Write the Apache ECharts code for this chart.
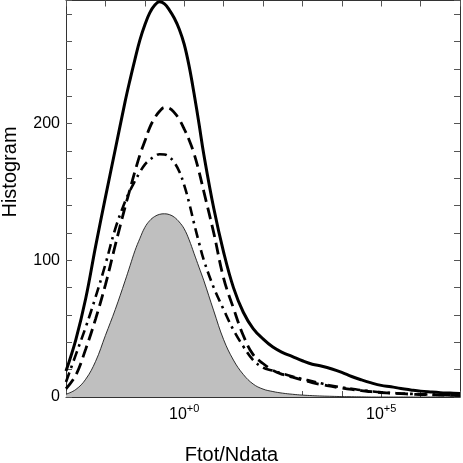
<!DOCTYPE html>
<html>
<head>
<meta charset="utf-8">
<script src="https://cdn.jsdelivr.net/npm/echarts@6/dist/echarts.min.js"></script>
<style>
html,body{margin:0;padding:0;background:#fff;}
#c{width:463px;height:463px;}
</style>
</head>
<body>
<div id="c"></div>
<script>
// x values are log10(Ftot/Ndata); finer reading steps around the peaks
const xExps = [-3,-2.75,-2.5,-2.25,-2,-1.75,-1.5,-1.375,-1.25,-1.125,-1,-0.875,-0.75,-0.625,-0.5,-0.375,-0.25,-0.125,0,0.125,0.25,0.375,0.5,0.75,1,1.25,1.5,1.75,2,2.25,2.5,2.75,3,3.25,3.5,3.75,4,4.25,4.5,4.75,5,5.25,5.5,5.75,6,6.25,6.5,6.75,7];
const solidValues = [19,42,72,110,146,181,216,232,247,261,272,281,286.5,289,287.5,283,277,269,258,242,222,200,177,138,106,80,62,50,42.5,36.5,32.5,29.5,26.5,24,22.5,20.5,18,15,12.5,10.3,8.5,7.5,6.2,5.2,4.3,3.7,3.2,2.9,2.6];
const dashedValues = [6,16,35,57,82,111,139,152,165,177,187,197,204,209,211.8,211.2,208,203,196,188,178,165,150,120,87,65,45,31,24.5,19.5,16.5,14.5,12.5,10.5,9,7.7,6.5,5.5,4.7,3.9,3.3,2.8,2.4,2.1,1.8,1.6,1.4,1.2,1.0];
const dashDotValues = [11,31,51,73,97,123,143,151,158,164.5,170,173.5,176,177.6,177.4,175.5,171.5,165,155,142,127,113,100,80,64,49,37,27,21.5,19.3,17,15,13.2,11.5,9.8,8.2,7,6,5,4.2,3.5,3,2.6,2.3,2,1.8,1.6,1.4,1.2];
const grayValues = [2,5.5,13,26,45,64,85,96,107,116,124,129,132,133.6,134,133.4,131.5,128,123,115,105,95,85,63,42,27,16.5,9.5,5.8,4,2.8,2,1.4,1,0.7,0.5,0.3,0.2,0.1,0,0,0,0,0,0,0,0,0,0];
const xLabelExps = [0, 5];
const yLabelValues = [0, 100, 200];

function pairs(vals){ return xExps.map(function(x,i){ return [x, vals[i]]; }); }

const chart = echarts.init(document.getElementById('c'));
const axisColor = '#333';
const tickColor = '#555';
const baseFont = 'Liberation Sans, Arial, Helvetica, sans-serif';
function xFmt(v){
  if (xLabelExps.indexOf(v) >= 0) return '{n|10}{s|+' + v + '}';
  return '';
}
function yFmt(v){
  return yLabelValues.indexOf(v) >= 0 ? String(v) : '';
}
const xCommon = {type:'value', min:-3, max:7, interval:1,
  axisLine:{show:true, onZero:false, lineStyle:{color:axisColor, width:1}},
  axisTick:{show:true, inside:true, length:6, lineStyle:{color:tickColor}},
  splitLine:{show:false}};
const yCommon = {type:'value', min:0, max:290, interval:20,
  axisLine:{show:true, onZero:false, lineStyle:{color:axisColor, width:1}},
  axisTick:{show:true, inside:true, length:6, lineStyle:{color:tickColor}},
  splitLine:{show:false}};

chart.setOption({
  animation:false,
  grid:{left:66, right:1, top:0.5, bottom:66, containLabel:false},
  xAxis:[
    Object.assign({}, xCommon, {position:'bottom',
      axisLabel:{show:true, formatter:xFmt, margin:6, color:'#000', fontFamily:baseFont,
        rich:{n:{fontSize:16, lineHeight:20, verticalAlign:'bottom', fontFamily:baseFont, color:'#000'},
              s:{fontSize:11, lineHeight:11, verticalAlign:'top', fontFamily:baseFont, color:'#000'}}}}),
    Object.assign({}, xCommon, {position:'top', axisLabel:{show:false}})
  ],
  yAxis:[
    Object.assign({}, yCommon, {position:'left',
      axisLabel:{show:true, formatter:yFmt, margin:6, fontSize:16, color:'#000', fontFamily:baseFont}}),
    Object.assign({}, yCommon, {position:'right', axisLabel:{show:false}})
  ],
  graphic:[
    {type:'text', left:'center', top:445, style:{text:'Ftot/Ndata', fontSize:20, fontFamily:baseFont, fill:'#000'}},
    {type:'text', x:10, y:172, rotation:Math.PI/2, style:{text:'Histogram', fontSize:20, fontFamily:baseFont, fill:'#000', align:'center', verticalAlign:'middle'}}
  ],
  series:[
    {type:'line', data:pairs(grayValues), smooth:0.4, symbol:'none', z:1,
      lineStyle:{color:'#000', width:0.8}, areaStyle:{color:'#bfbfbf', opacity:1}},
    {type:'line', data:pairs(dashDotValues), smooth:0.4, symbol:'none', z:2,
      lineStyle:{color:'#000', width:2.6, type:[10,5,2.5,5]}},
    {type:'line', data:pairs(dashedValues), smooth:0.4, symbol:'none', z:3,
      lineStyle:{color:'#000', width:2.8, type:[12,6]}},
    {type:'line', data:pairs(solidValues), smooth:0.4, symbol:'none', z:4,
      lineStyle:{color:'#000', width:3}}
  ]
});
</script>
</body>
</html>
